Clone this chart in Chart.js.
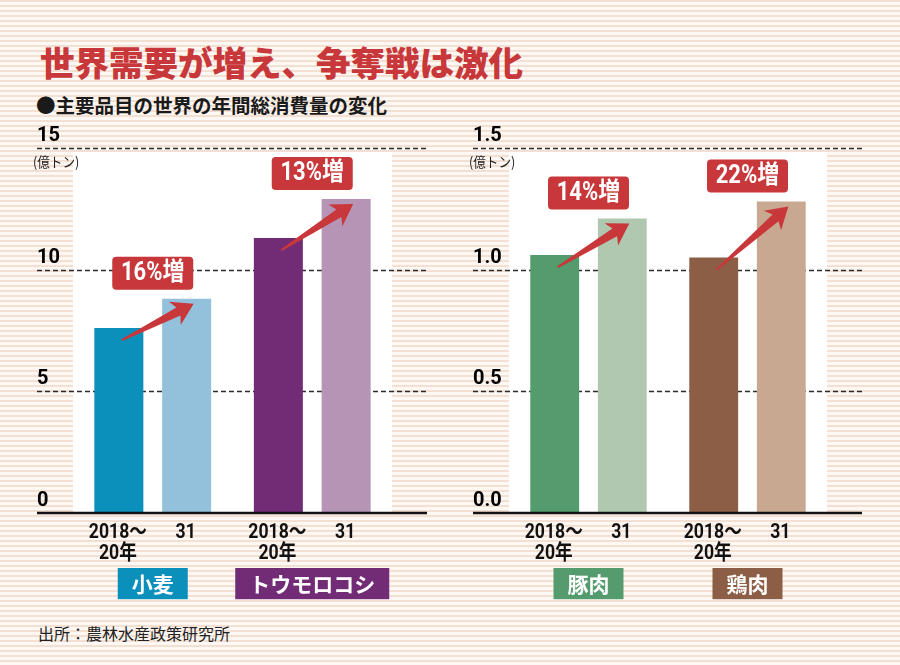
<!DOCTYPE html>
<html lang="ja">
<head>
<meta charset="utf-8">
<script src="https://cdn.jsdelivr.net/npm/chart.js@4.4.1/dist/chart.umd.min.js"></script>
<style>
  body {
    margin: 0; width: 900px; height: 665px; overflow: hidden; position: relative;
    background: repeating-linear-gradient(to bottom, #f3e0d3 0px, #f3e0d3 2.5px, #fdf8f4 2.5px, #fdf8f4 5px);
    font-family: 'Noto Sans CJK JP', sans-serif;
  }
  #title { position: absolute; left: 40px; top: 43px; font-size: 34.5px; line-height: 36px; font-weight: 900; color: #c8373a; white-space: nowrap; }
  #subtitle { position: absolute; left: 36px; top: 94px; font-size: 19.5px; line-height: 21px; font-weight: 700; color: #1a1a1a; white-space: nowrap; }
  #source { position: absolute; left: 38px; top: 624px; font-size: 16px; line-height: 18px; color: #222; white-space: nowrap; }
  canvas { position: absolute; top: 120px; }
  #grainChart { left: 0; }
  #meatChart { left: 450px; }
</style>
</head>
<body>
<div id="title">世界需要が増え、争奪戦は激化</div>
<div id="subtitle">●主要品目の世界の年間総消費量の変化</div>
<canvas id="grainChart" width="450" height="500"></canvas>
<canvas id="meatChart" width="450" height="500"></canvas>
<div id="source">出所：農林水産政策研究所</div>
<script>
// data (億トン)
const grainCategories = ['小麦', 'トウモロコシ'];
const grainFirst = [7.6, 11.3];   // 2018～20年
const grainSecond = [8.8, 12.9];  // 31年
const grainGrowth = ['16%増', '13%増'];

const meatCategories = ['豚肉', '鶏肉'];
const meatFirst = [1.06, 1.05];
const meatSecond = [1.21, 1.28];
const meatGrowth = ['14%増', '22%増'];

const periodLabels = [['2018～', '20年'], ['31']];
const unitLabel = '(億トン)';

const grainDark = ['#0b90bb', '#722b75'];
const grainLight = ['#93c1dc', '#b694b6'];
const meatDark = ['#549b6e', '#8c5e45'];
const meatLight = ['#b1c8b0', '#c8a891'];

const RED = '#c8373a';
const NUM_FONT = "Roboto, 'Noto Sans CJK JP', sans-serif";

function roundBox(ctx, x, y, w, h, r) {
  ctx.beginPath();
  ctx.moveTo(x + r, y);
  ctx.lineTo(x + w - r, y);
  ctx.quadraticCurveTo(x + w, y, x + w, y + r);
  ctx.lineTo(x + w, y + h - r);
  ctx.quadraticCurveTo(x + w, y + h, x + w - r, y + h);
  ctx.lineTo(x + r, y + h);
  ctx.quadraticCurveTo(x, y + h, x, y + h - r);
  ctx.lineTo(x, y + r);
  ctx.quadraticCurveTo(x, y, x + r, y);
  ctx.closePath();
}

// squeeze text horizontally, the original uses a condensed face
function narrowText(ctx, text, x, y, sx) {
  ctx.save();
  ctx.translate(x, y);
  ctx.scale(sx, 1);
  ctx.fillText(text, 0, 0);
  ctx.restore();
}

function drawArrow(ctx, x1, y1, x2, y2) {
  const dx = x2 - x1, dy = y2 - y1, len = Math.hypot(dx, dy);
  const ux = dx / len, uy = dy / len, nx = -uy, ny = ux;
  const headLen = 21, headHalf = 13, neckHalf = 4.5, tailHalf = 1;
  const bx = x2 - ux * headLen, by = y2 - uy * headLen;
  const notch = 4;
  ctx.beginPath();
  ctx.moveTo(x1 + nx * tailHalf, y1 + ny * tailHalf);
  ctx.lineTo(bx + ux * notch + nx * neckHalf, by + uy * notch + ny * neckHalf);
  ctx.lineTo(bx + nx * headHalf, by + ny * headHalf);
  ctx.lineTo(x2, y2);
  ctx.lineTo(bx - nx * headHalf, by - ny * headHalf);
  ctx.lineTo(bx + ux * notch - nx * neckHalf, by + uy * notch - ny * neckHalf);
  ctx.lineTo(x1 - nx * tailHalf, y1 - ny * tailHalf);
  ctx.closePath();
  ctx.fill();
}

const decorPlugin = {
  id: 'decor',
  beforeDraw(chart) {
    const { ctx, chartArea: a } = chart;
    ctx.save();
    ctx.fillStyle = '#ffffff';
    ctx.fillRect(a.left, a.top + 4, a.right - a.left, a.bottom - a.top - 4);
    ctx.restore();
  },
  beforeDatasetsDraw(chart) {
    const { ctx, chartArea: a, scales: { y } } = chart;
    ctx.save();
    ctx.strokeStyle = '#2a2a2a';
    ctx.lineWidth = 1.3;
    ctx.setLineDash([5, 3]);
    y.ticks.forEach(t => {
      if (t.value === 0) return;
      const py = Math.round(y.getPixelForValue(t.value)) + 0.5;
      ctx.beginPath();
      ctx.moveTo(a.left - 36, py);
      ctx.lineTo(a.right + 35, py);
      ctx.stroke();
    });
    ctx.restore();
  },
  afterDatasetsDraw(chart, args, opts) {
    const { ctx, chartArea: a, scales: { y } } = chart;
    const y0 = y.getPixelForValue(0);
    ctx.save();

    // baseline
    ctx.strokeStyle = '#111';
    ctx.lineWidth = 2.5;
    ctx.beginPath();
    ctx.moveTo(a.left - 36, y0);
    ctx.lineTo(a.right + 35, y0);
    ctx.stroke();

    // unit
    ctx.fillStyle = '#222';
    ctx.font = "14px 'Noto Sans CJK JP', sans-serif";
    ctx.textAlign = 'left';
    ctx.textBaseline = 'middle';
    narrowText(ctx, unitLabel, a.left - 40, a.top + 14, 0.9);

    // period labels under each bar
    ctx.fillStyle = '#111';
    ctx.font = 'bold 21px ' + NUM_FONT;
    ctx.textAlign = 'center';
    const metas = [chart.getDatasetMeta(0), chart.getDatasetMeta(1)];
    metas.forEach((meta, d) => {
      meta.data.forEach(bar => {
        periodLabels[d].forEach((line, k) => {
          narrowText(ctx, line, bar.x - 1, y0 + 20 + k * 21, 0.84);
        });
      });
    });

    // arrows and growth callouts
    metas[0].data.forEach((b1, i) => {
      const b2 = metas[1].data[i];
      ctx.fillStyle = RED;
      drawArrow(ctx, b1.x + 3, b1.y + 12, b2.x + 7, b2.y + 5);
      const cx = (b1.x + b2.x) / 2;
      const top = Math.min(b1.y, b2.y) - 9 - 33;
      roundBox(ctx, cx - 40.5, top, 81, 33, 4);
      ctx.fill();
      ctx.fillStyle = '#ffffff';
      ctx.font = 'bold 25px ' + NUM_FONT;
      ctx.textBaseline = 'middle';
      narrowText(ctx, opts.growth[i], cx, top + 17, 0.88);
    });
    ctx.restore();
  }
};

function buildChart(id, categories, first, second, dark, light, yMax, yStep, decimals, growth, padLeft, padRight) {
  return new Chart(document.getElementById(id), {
    type: 'bar',
    data: {
      labels: categories,
      datasets: [
        { label: '2018～20年', data: first, backgroundColor: dark },
        { label: '31年', data: second, backgroundColor: light }
      ]
    },
    options: {
      responsive: false,
      animation: false,
      layout: { padding: { left: padLeft, right: padRight, top: 28, bottom: 0 } },
      datasets: { bar: { categoryPercentage: 0.85, barPercentage: 0.723 } },
      scales: {
        x: {
          grid: { display: false, drawTicks: false },
          border: { display: false },
          afterFit: (scale) => { scale.height = 107; },
          ticks: {
            color: '#ffffff',
            padding: 58,
            maxRotation: 0,
            font: { family: "'Noto Sans CJK JP', sans-serif", size: 21, weight: 'bold' },
            showLabelBackdrop: true,
            backdropColor: (c) => dark[c.index],
            backdropPadding: { top: 3, bottom: 3, left: 14, right: 14 }
          }
        },
        y: {
          min: 0,
          max: yMax,
          grid: { display: false, drawTicks: false },
          border: { display: false },
          afterFit: (scale) => { scale.width = 36; },
          ticks: {
            stepSize: yStep,
            color: '#000',
            padding: 0,
            crossAlign: 'far',
            labelOffset: -12,
            font: { family: NUM_FONT, size: 20, weight: 'bold' },
            callback: (v) => Number(v).toFixed(decimals)
          }
        }
      },
      plugins: {
        legend: { display: false },
        tooltip: { enabled: false },
        decor: { growth: growth }
      }
    },
    plugins: [decorPlugin]
  });
}

buildChart('grainChart', grainCategories, grainFirst, grainSecond, grainDark, grainLight, 15, 5, 0, grainGrowth, 37, 58);
buildChart('meatChart', meatCategories, meatFirst, meatSecond, meatDark, meatLight, 1.5, 0.5, 1, meatGrowth, 23, 73);
</script>
</body>
</html>
